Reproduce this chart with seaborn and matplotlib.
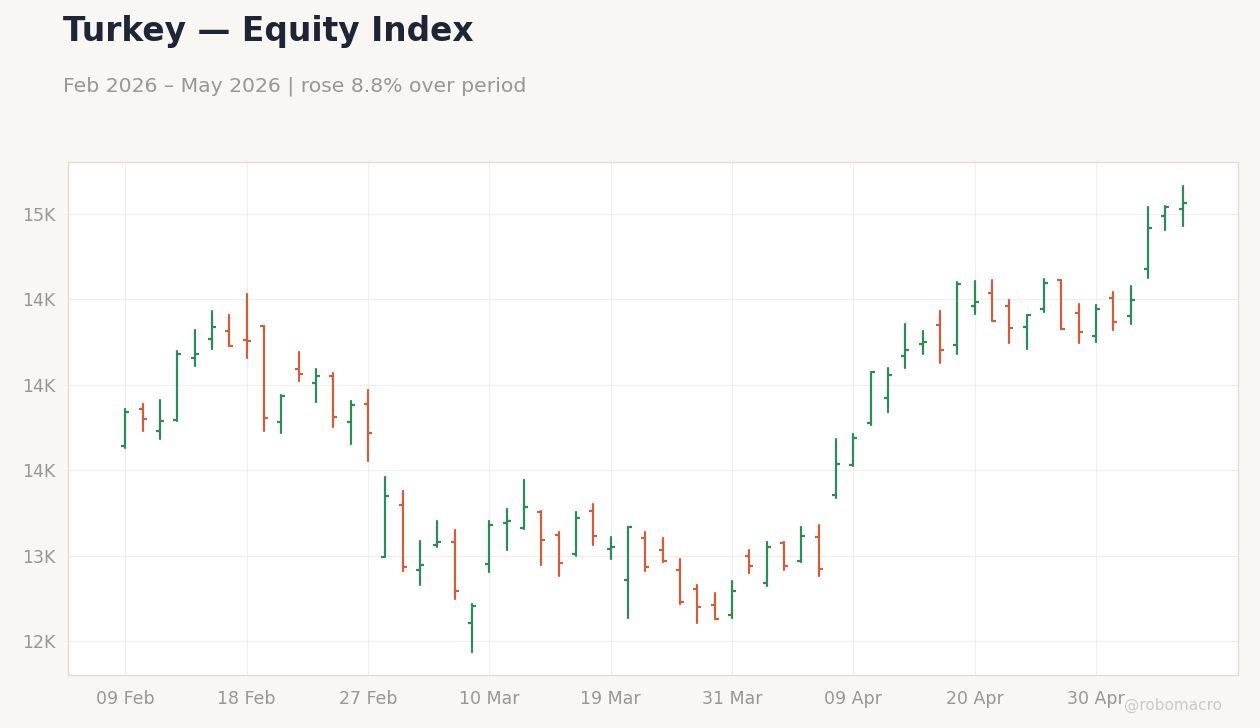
import numpy as np
import pandas as pd
import seaborn as sns
import matplotlib.pyplot as plt
from matplotlib.ticker import MultipleLocator, FuncFormatter

# trading days (BIST closed 20 Mar, 23 Apr, 01 May)
holidays = ["2026-03-20", "2026-04-23", "2026-05-01"]
dates = pd.bdate_range("2026-02-09", periods=62, freq="C", holidays=holidays)

opens = [13643, 13860, 13731, 13794, 14157, 14270, 14317, 14262, 14343, 13784,
         14094, 14012, 14053, 13784, 13889, 12992, 13298, 12917, 13064, 13081,
         12607, 12953, 13193, 13162, 13257, 13122, 13009, 13263, 13040, 12859,
         13105, 13035, 12917, 12806, 12713, 12654, 12999, 12841, 13076, 12970,
         13111, 13355, 13532, 13776, 13925, 14170, 14241, 14352, 14235, 14463,
         14539, 14463, 14340, 14446, 14612, 14422, 14288, 14510, 14405, 14680,
         14990, 15031]
highs = [13857, 13888, 13911, 14198, 14321, 14432, 14409, 14532, 14345, 13940,
         14194, 14093, 14069, 13905, 13970, 13462, 13378, 13086, 13203, 13150,
         12715, 13203, 13273, 13443, 13261, 13138, 13255, 13302, 13109, 13169,
         13138, 13103, 12980, 12828, 12781, 12851, 13033, 13080, 13078, 13167,
         13179, 13683, 13712, 14077, 14098, 14356, 14315, 14432, 14602, 14608,
         14614, 14497, 14410, 14620, 14614, 14473, 14467, 14543, 14579, 15041,
         15049, 15164]
lows = [13628, 13731, 13684, 13790, 14112, 14211, 14225, 14159, 13731, 13720,
        14024, 13901, 13755, 13655, 13556, 12990, 12912, 12830, 13052, 12748,
        12437, 12906, 13035, 13158, 12947, 12882, 12999, 13064, 12982, 12636,
        12912, 12964, 12718, 12607, 12627, 12636, 12900, 12824, 12917, 12964,
        12882, 13339, 13526, 13766, 13841, 14098, 14180, 14128, 14180, 14416,
        14372, 14245, 14211, 14428, 14325, 14247, 14252, 14321, 14358, 14627,
        14908, 14932]
closes = [13843, 13802, 13790, 14182, 14182, 14340, 14229, 14258, 13807, 13936,
          14065, 14053, 13813, 13884, 13720, 13351, 12935, 12947, 13081, 12795,
          12707, 13181, 13204, 13286, 13093, 12958, 13222, 13117, 13052, 13167,
          12935, 12966, 12728, 12701, 12629, 12795, 12941, 13052, 12941, 13117,
          12923, 13536, 13690, 14075, 14059, 14206, 14252, 14206, 14592, 14487,
          14374, 14334, 14408, 14598, 14327, 14311, 14446, 14370, 14498, 14920,
          15043, 15066]

up_color = "#2e8b57"
down_color = "#cd5f3f"

df = pd.DataFrame({"date": dates, "open": opens, "high": highs, "low": lows, "close": closes})
df["idx"] = np.arange(len(df))
df["dir"] = np.where(df["close"] >= df["open"], "up", "down")
pal = {"up": up_color, "down": down_color}

# long form for the high-low bars
hl = df.melt(id_vars=["idx", "dir"], value_vars=["high", "low"], value_name="price")

sns.set_theme(style="whitegrid")
plt.rcParams["font.family"] = ["DejaVu Sans"]

fig = plt.figure(figsize=(12.6, 7.28), dpi=100, facecolor="#f8f7f4")
ax = fig.add_axes([0.054, 0.0728, 0.9286, 0.7047])
ax.set_facecolor("white")

sns.lineplot(data=hl, x="idx", y="price", units="idx", estimator=None, hue="dir",
             palette=pal, linewidth=1.6, legend=False, ax=ax)
sns.scatterplot(data=df, x="idx", y="open", hue="dir", palette=pal, marker=0,
                s=8, linewidth=1.6, legend=False, ax=ax)
sns.scatterplot(data=df, x="idx", y="close", hue="dir", palette=pal, marker=1,
                s=8, linewidth=1.6, legend=False, ax=ax)

ax.set_xlim(-3.3, 64.2)
ax.set_ylim(12301, 15304)
ax.yaxis.set_major_locator(MultipleLocator(500))
ax.yaxis.set_major_formatter(FuncFormatter(lambda v, p: f"{v / 1000:.0f}K"))

tick_pos = list(range(0, len(df), 7))
ax.set_xticks(tick_pos)
ax.set_xticklabels([dates[i].strftime("%d %b") for i in tick_pos])
ax.set_xlabel("")
ax.set_ylabel("")

ax.grid(True, color="#efefef", linewidth=0.8)
for s in ax.spines.values():
    s.set_color("#e2ddd5")
    s.set_linewidth(1.0)
ax.tick_params(axis="both", colors="#9a9690", labelsize=12.5, length=5, width=1,
               labelcolor="#9a9690")
ax.tick_params(axis="x", pad=6)
ax.tick_params(axis="y", pad=4)

fig.text(0.05, 1 - 31 / 728, "Turkey \u2014 Equity Index", fontsize=23.7, fontweight="bold",
         color="#1e2535", va="center", ha="left")
fig.text(0.05, 1 - 86 / 728, "Feb 2026 \u2013 May 2026 | rose 8.8% over period", fontsize=14.65,
         color="#9a9690", va="center", ha="left")
fig.text(0.97, 1 - 705 / 728, "@robomacro", fontsize=11, color="#cdc9c2",
         va="center", ha="right")

fig.savefig("out.png", dpi=100, facecolor=fig.get_facecolor())
